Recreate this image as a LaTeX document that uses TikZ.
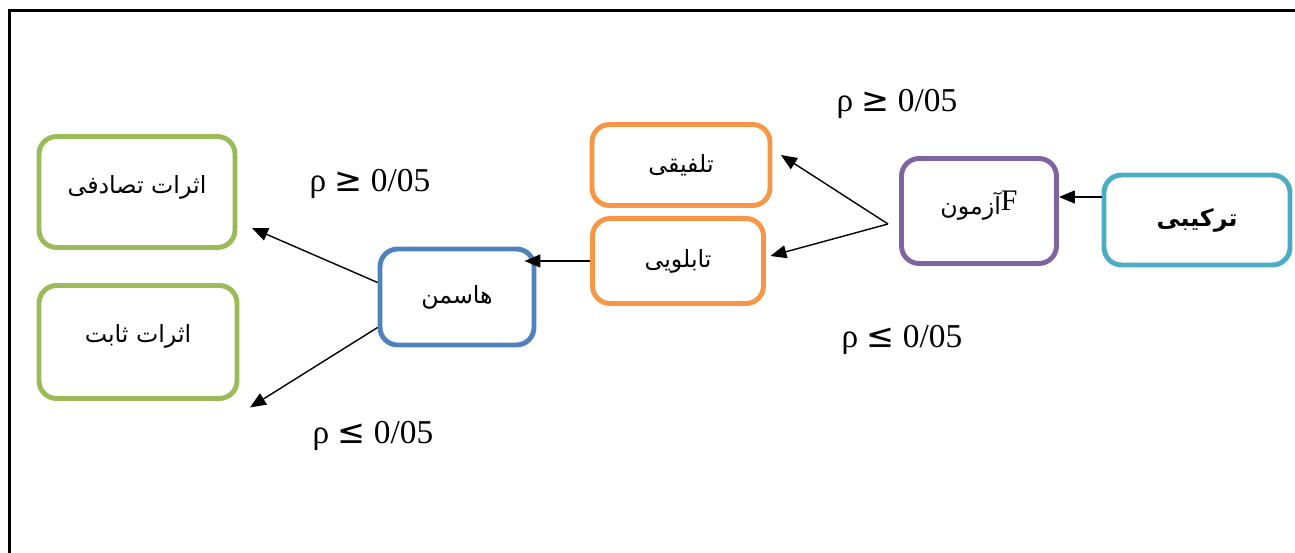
\documentclass[tikz,border=0pt]{standalone}
\usepackage{fontspec}
\usetikzlibrary{arrows.meta}
\TeXXeTstate=1
\newfontfamily\arabicfont[Script=Arabic]{DejaVu Sans}
\newfontfamily\pfont{Liberation Serif}
\newfontfamily\symfont{DejaVu Sans}
\definecolor{cyanline}{HTML}{4BACC6}
\definecolor{purpleline}{HTML}{8064A2}
\definecolor{orangeline}{HTML}{F79646}
\definecolor{blueline}{HTML}{4F81BD}
\definecolor{greenline}{HTML}{9BBB59}
\tikzset{
  box/.style={draw=#1, line width=2.8pt, rounded corners=10pt, inner sep=0pt,
    font=\arabicfont\fontsize{13.5}{16}\selectfont},
  plabel/.style={font=\pfont\fontsize{19}{22}\selectfont}
}
\begin{document}
\begin{tikzpicture}[x=0.02cm, y=-0.02cm]
      \useasboundingbox (0,0) rectangle (1295,553);
      \draw[line width=1.7pt] (9.5,553) -- (9.5,11) -- (1295,11);
      \draw
        (1197,220) node[box=cyanline, minimum width=3.72cm, minimum height=1.8cm] (trk){\bfseries\beginR ترکیبی\endR}
        (979,211) node[box=purpleline, minimum width=3.1cm, minimum height=2.1cm, text depth=0.35cm] (azm){\beginR\beginL\raisebox{0.08cm}{\pfont\fontsize{17}{20}\selectfont F}\endL آزمون\endR}
        (681,165) node[box=orangeline, minimum width=3.56cm, minimum height=1.62cm] (tlf){\beginR تلفیقی\endR}
        (678,261) node[box=orangeline, minimum width=3.42cm, minimum height=1.7cm] (tab){\beginR تابلویی\endR}
        (457,297) node[box=blueline, minimum width=3.08cm, minimum height=1.92cm] (hsm){\beginR هاسمن\endR}
        (137,192) node[box=greenline, minimum width=3.92cm, minimum height=2.22cm, text depth=0.3cm] (tsd){\beginR اثرات تصادفی\endR}
        (138,342) node[box=greenline, minimum width=3.96cm, minimum height=2.26cm, text depth=0.35cm] (sbt){\beginR اثرات ثابت\endR}
        (888,224) coordinate (fork)
        (897,104) node[plabel] (p1){ρ {\symfont ≥} 0/05}
        (370,184) node[plabel] (p2){ρ {\symfont ≥} 0/05}
        (902,340) node[plabel] (p3){ρ {\symfont ≤} 0/05}
        (373,436) node[plabel] (p4){ρ {\symfont ≤} 0/05};
      \begin{scope}[-{Triangle[length=0.32cm,width=0.26cm]}, line width=0.8pt]
        \draw ([yshift=0.46cm]trk.west) to ([yshift=0.46cm]azm.east |- trk.west);
        \draw (fork) to ([xshift=0.17cm,yshift=0.2cm]tlf.east);
        \draw (fork) to ([xshift=0.09cm,yshift=0.1cm]tab.east);
        \draw (tab.west) to ([xshift=-0.24cm]hsm.east |- tab.west);
        \draw ([yshift=0.29cm]hsm.west) to ([xshift=0.29cm,yshift=-0.72cm]tsd.east);
        \draw ([yshift=-0.61cm]hsm.west) to ([xshift=0.21cm,yshift=-0.13cm]sbt.south east);
      \end{scope}
    \end{tikzpicture}
\end{document}
